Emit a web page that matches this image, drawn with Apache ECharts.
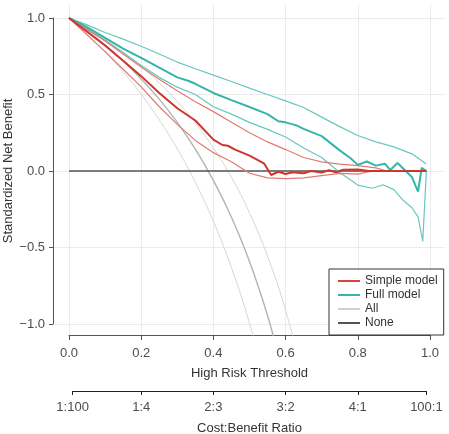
<!DOCTYPE html>
<html>
<head>
<meta charset="utf-8">
<script src="https://cdn.jsdelivr.net/npm/echarts@6/dist/echarts.min.js"></script>
<style>
  html, body { margin: 0; padding: 0; background: #fff; }
  #chart { width: 449px; height: 434px; }
</style>
</head>
<body>
<div id="chart"></div>
<script>
// axis ticks
const xTicks = [0, 0.2, 0.4, 0.6, 0.8, 1.0]
const yTicks = [-1, -0.5, 0, 0.5, 1]
const ratioLabels = ['1:100', '1:4', '2:3', '3:2', '4:1', '100:1']
const ratioPos = [0.0099, 0.2, 0.4, 0.6, 0.8, 0.9901]

// Simple model: estimate + CI bounds
const simpleEstX = [0, 0.05, 0.1, 0.15, 0.2, 0.25, 0.3, 0.35, 0.4, 0.425, 0.44, 0.46, 0.5, 0.54, 0.56, 0.58, 0.6, 0.62, 0.65, 0.67, 0.7, 0.72, 0.74, 0.76, 0.8, 0.83, 0.99]
const simpleEst = [1, 0.91, 0.82, 0.72, 0.62, 0.51, 0.41, 0.33, 0.205, 0.17, 0.165, 0.14, 0.1, 0.05, -0.026, -0.005, -0.02, -0.008, -0.015, 0.0, -0.01, 0.005, -0.008, 0.008, 0.01, 0.0, 0.0]
const simpleUpX = [0, 0.05, 0.1, 0.15, 0.2, 0.25, 0.3, 0.35, 0.4, 0.45, 0.5, 0.55, 0.6, 0.65, 0.7, 0.75, 0.8, 0.85, 0.88, 0.99]
const simpleUp = [1, 0.925, 0.85, 0.765, 0.68, 0.6, 0.525, 0.452, 0.388, 0.318, 0.25, 0.19, 0.14, 0.088, 0.06, 0.045, 0.035, 0.02, 0.0, 0.0]
const simpleLoX = [0, 0.05, 0.1, 0.15, 0.2, 0.25, 0.3, 0.35, 0.4, 0.45, 0.5, 0.55, 0.6, 0.65, 0.7, 0.75, 0.8, 0.83, 0.86]
const simpleLo = [1, 0.89, 0.78, 0.665, 0.55, 0.42, 0.305, 0.2, 0.12, 0.06, -0.015, -0.045, -0.05, -0.045, -0.03, -0.015, -0.02, -0.005, 0.0]

// Full model: estimate + CI bounds
const fullEstX = [0, 0.05, 0.1, 0.15, 0.2, 0.25, 0.3, 0.33, 0.35, 0.4, 0.45, 0.5, 0.55, 0.58, 0.6, 0.63, 0.65, 0.7, 0.75, 0.78, 0.8, 0.825, 0.85, 0.875, 0.89, 0.91, 0.935, 0.95, 0.967, 0.977, 0.99]
const fullEst = [1, 0.94, 0.87, 0.8, 0.74, 0.675, 0.612, 0.59, 0.57, 0.51, 0.463, 0.418, 0.372, 0.325, 0.318, 0.298, 0.275, 0.228, 0.135, 0.083, 0.04, 0.062, 0.035, 0.048, 0.006, 0.052, -0.005, -0.04, -0.135, 0.02, 0.0]
const fullUpX = [0, 0.05, 0.1, 0.15, 0.2, 0.25, 0.3, 0.35, 0.4, 0.45, 0.5, 0.55, 0.6, 0.65, 0.7, 0.75, 0.8, 0.85, 0.9, 0.95, 0.99]
const fullUp = [1, 0.955, 0.905, 0.862, 0.815, 0.765, 0.712, 0.668, 0.627, 0.585, 0.542, 0.5, 0.458, 0.415, 0.352, 0.29, 0.232, 0.19, 0.158, 0.112, 0.046]
const fullLoX = [0, 0.05, 0.1, 0.15, 0.2, 0.25, 0.3, 0.35, 0.4, 0.45, 0.5, 0.55, 0.6, 0.65, 0.7, 0.75, 0.8, 0.84, 0.87, 0.9, 0.925, 0.95, 0.967, 0.98, 0.99]
const fullLo = [1, 0.93, 0.855, 0.775, 0.69, 0.612, 0.548, 0.5, 0.42, 0.372, 0.318, 0.272, 0.222, 0.15, 0.088, -0.01, -0.092, -0.113, -0.09, -0.122, -0.19, -0.24, -0.3, -0.46, 0.0]

// Treat all: estimate + CI bounds
const allEstX = [0, 0.05, 0.1, 0.15, 0.2, 0.25, 0.3, 0.35, 0.4, 0.45, 0.5, 0.55, 0.6]
const allEst = [1, 0.916, 0.823, 0.719, 0.602, 0.47, 0.318, 0.143, -0.061, -0.302, -0.591, -0.945, -1.387]
const allLoX = [0, 0.05, 0.1, 0.15, 0.2, 0.25, 0.3, 0.35, 0.4, 0.45, 0.5, 0.55]
const allLo = [1, 0.895, 0.778, 0.648, 0.502, 0.335, 0.145, -0.074, -0.329, -0.631, -0.994, -1.437]
const allUpX = [0, 0.05, 0.1, 0.15, 0.2, 0.25, 0.3, 0.35, 0.4, 0.45, 0.5, 0.55, 0.6, 0.65]
const allUp = [1, 0.933, 0.859, 0.775, 0.682, 0.576, 0.454, 0.315, 0.151, -0.041, -0.273, -0.556, -0.91, -1.364]

// Treat none
const noneX = [0, 0.99]
const noneY = [0, 0]

const font = "'Liberation Sans', Arial, sans-serif"
const pairs = (xs, ys) => xs.map((x, i) => [x, ys[i]])

function line(name, xs, ys, color, width, smooth) {
    return {
        name: name,
        type: 'line',
        xAxisIndex: 0,
        yAxisIndex: 0,
        data: pairs(xs, ys),
        showSymbol: false,
        symbol: 'none',
        smooth: smooth || false,
        itemStyle: {color: color},
        lineStyle: {color: color, width: width}
    }
}

const RED = '#d0352d', RED_CI = '#e07a74'
const TEAL = '#35b5aa', TEAL_CI = '#66c8bf'
const GREY = '#b3b3b3', GREY_CI = '#d6d6d6'

const option = {
    animation: false,
    backgroundColor: '#fff',
    textStyle: {fontFamily: font},
    grid: [
        // panel (grid lines + curves)
        {left: 53, right: 4, top: 5, bottom: 99, outerBoundsMode: 'none', containLabel: false},
        // data range (axis lines)
        {left: 69, right: 19, top: 18, bottom: 110, outerBoundsMode: 'none', containLabel: false},
        // cost:benefit axis
        {left: 72.6, right: 22.6, top: 370, bottom: 43, outerBoundsMode: 'none', containLabel: false}
    ],
    xAxis: [
        {
            gridIndex: 0, type: 'value', min: -0.0443, max: 1.0416,
            axisLine: {show: false}, axisLabel: {show: false},
            axisTick: {show: false, customValues: xTicks},
            splitLine: {show: true, lineStyle: {color: '#ebebeb', width: 1}}
        },
        {
            gridIndex: 1, type: 'value', min: 0, max: 1, interval: 0.2, offset: 11,
            position: 'bottom',
            axisLine: {show: true, onZero: false, lineStyle: {color: '#555', width: 1}},
            axisTick: {show: true, length: 5, lineStyle: {color: '#555'}},
            axisLabel: {margin: 12, fontSize: 13, color: '#4d4d4d', formatter: v => v.toFixed(1)},
            splitLine: {show: false},
            name: 'High Risk Threshold', nameLocation: 'middle', nameGap: 32,
            nameMoveOverlap: false,
            nameTextStyle: {fontSize: 13, color: '#333'}
        },
        {
            gridIndex: 2, type: 'value', min: ratioPos[0], max: ratioPos[ratioPos.length - 1],
            position: 'bottom',
            axisLine: {show: true, onZero: false, lineStyle: {color: '#222', width: 1}},
            axisTick: {show: true, length: 4, customValues: ratioPos, lineStyle: {color: '#222'}},
            axisLabel: {
                margin: 10, fontSize: 13, color: '#4d4d4d', customValues: ratioPos,
                formatter: v => ratioLabels[ratioPos.findIndex(p => Math.abs(p - v) < 1e-6)]
            },
            splitLine: {show: false},
            name: 'Cost:Benefit Ratio', nameLocation: 'middle', nameGap: 31,
            nameMoveOverlap: false,
            nameTextStyle: {fontSize: 13, color: '#333'}
        }
    ],
    yAxis: [
        {
            gridIndex: 0, type: 'value', min: -1.072, max: 1.085,
            axisLine: {show: false}, axisLabel: {show: false},
            axisTick: {show: false, customValues: yTicks},
            splitLine: {show: true, lineStyle: {color: '#ebebeb', width: 1}}
        },
        {
            gridIndex: 1, type: 'value', min: -1, max: 1, interval: 0.5, offset: 16,
            position: 'left',
            axisLine: {show: true, onZero: false, lineStyle: {color: '#555', width: 1}},
            axisTick: {show: true, length: 4, lineStyle: {color: '#555'}},
            axisLabel: {margin: 8, fontSize: 13, color: '#4d4d4d', formatter: v => v.toFixed(1).replace('-', '\u2212')},
            splitLine: {show: false},
            name: 'Standardized Net Benefit', nameLocation: 'middle', nameGap: 38,
            nameMoveOverlap: false,
            nameTextStyle: {fontSize: 13, color: '#333'}
        },
        {gridIndex: 2, type: 'value', show: false}
    ],
    legend: {
        left: 329, top: 269,
        orient: 'vertical',
        backgroundColor: '#fff',
        borderColor: '#333', borderWidth: 1,
        padding: [5, 6, 5, 9],
        itemGap: 0,
        itemWidth: 22, itemHeight: 2,
        icon: 'rect',
        textStyle: {fontSize: 12, color: '#333', lineHeight: 14},
        data: [
            {name: 'Simple model', itemStyle: {color: '#d9443c'}},
            {name: 'Full model', itemStyle: {color: TEAL}},
            {name: 'All', itemStyle: {color: '#cfcfcf'}},
            {name: 'None', itemStyle: {color: '#555'}}
        ]
    },
    series: [
        line('All', allLoX, allLo, GREY_CI, 1, 0.4),
        line('All', allUpX, allUp, GREY_CI, 1, 0.4),
        line('All', allEstX, allEst, GREY, 1.4, 0.4),
        line('None', noneX, noneY, '#555', 1.3),
        line('Full model', fullUpX, fullUp, TEAL_CI, 1.2),
        line('Full model', fullLoX, fullLo, TEAL_CI, 1.2),
        line('Full model', fullEstX, fullEst, TEAL, 2),
        line('Simple model', simpleUpX, simpleUp, RED_CI, 1.2),
        line('Simple model', simpleLoX, simpleLo, RED_CI, 1.2),
        line('Simple model', simpleEstX, simpleEst, RED, 2)
    ]
}

const chart = echarts.init(document.getElementById('chart'))
chart.setOption(option)
</script>
</body>
</html>
